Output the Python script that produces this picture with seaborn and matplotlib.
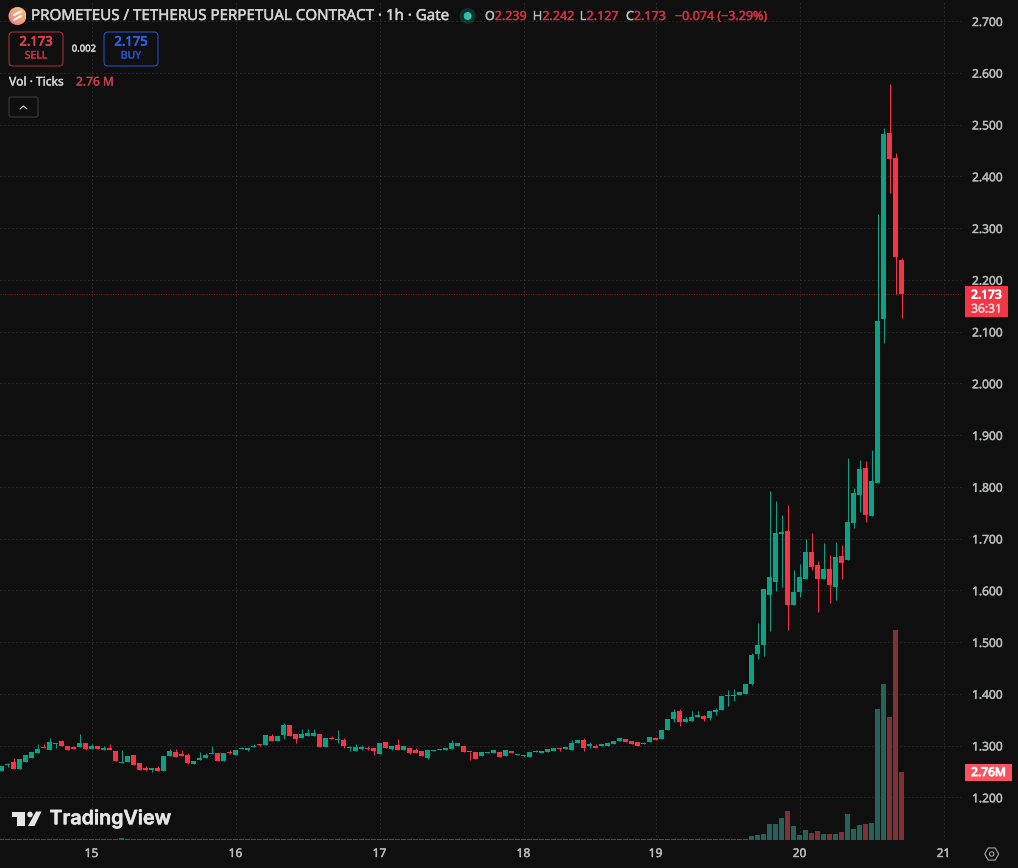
import matplotlib
matplotlib.use("Agg")
import matplotlib.pyplot as plt
import matplotlib.patheffects as pe
from matplotlib.patches import Circle, FancyBboxPatch, Polygon, Rectangle, RegularPolygon
import numpy as np
import pandas as pd
import seaborn as sns

# Hourly PROMETEUS / TETHERUS perpetual candles
opens = [
    1.250, 1.263, 1.268, 1.254, 1.269, 1.276, 1.285, 1.298, 1.291, 1.303,
    1.309, 1.299, 1.297, 1.297, 1.305, 1.293, 1.299, 1.291, 1.295, 1.289,
    1.266, 1.268, 1.281, 1.266, 1.256, 1.253, 1.256, 1.250, 1.280, 1.287,
    1.283, 1.282, 1.265, 1.272, 1.276, 1.283, 1.286, 1.270, 1.288, 1.282,
    1.294, 1.291, 1.297, 1.303, 1.301, 1.318, 1.309, 1.321, 1.339, 1.323,
    1.314, 1.318, 1.318, 1.323, 1.297, 1.314, 1.310, 1.310, 1.295, 1.290,
    1.294, 1.295, 1.295, 1.283, 1.306, 1.294, 1.301, 1.292, 1.295, 1.291,
    1.290, 1.275, 1.289, 1.292, 1.291, 1.293, 1.299, 1.299, 1.288, 1.288,
    1.279, 1.285, 1.285, 1.288, 1.280, 1.290, 1.2825, 1.280, 1.278, 1.288,
    1.286, 1.288, 1.289, 1.295, 1.294, 1.292, 1.305, 1.311, 1.300, 1.300,
    1.300, 1.299, 1.303, 1.309, 1.312, 1.309, 1.307, 1.303, 1.307, 1.315,
    1.313, 1.330, 1.3515, 1.367, 1.346, 1.348, 1.356, 1.357, 1.353, 1.365,
    1.369, 1.396, 1.395, 1.398, 1.400, 1.419, 1.477, 1.494, 1.591, 1.616,
    1.709, 1.714, 1.571, 1.596, 1.622, 1.674, 1.649, 1.622, 1.641, 1.606,
    1.666, 1.658, 1.730, 1.784, 1.836, 1.743, 1.807, 2.124, 2.484, 2.435, 2.239,
]
closes = [
    1.260, 1.264, 1.254, 1.273, 1.281, 1.287, 1.293, 1.295, 1.306, 1.305,
    1.300, 1.291, 1.293, 1.305, 1.294, 1.299, 1.294, 1.295, 1.291, 1.270,
    1.268, 1.279, 1.262, 1.252, 1.253, 1.257, 1.251, 1.279, 1.290, 1.278,
    1.280, 1.266, 1.270, 1.276, 1.282, 1.285, 1.270, 1.286, 1.286, 1.291,
    1.296, 1.296, 1.299, 1.301, 1.321, 1.309, 1.319, 1.339, 1.318, 1.312,
    1.323, 1.324, 1.324, 1.297, 1.314, 1.312, 1.312, 1.299, 1.296, 1.297,
    1.297, 1.294, 1.290, 1.305, 1.295, 1.300, 1.292, 1.299, 1.285, 1.286,
    1.279, 1.291, 1.292, 1.293, 1.295, 1.305, 1.305, 1.288, 1.287, 1.274,
    1.288, 1.288, 1.292, 1.278, 1.292, 1.286, 1.283, 1.282, 1.288, 1.289,
    1.290, 1.294, 1.295, 1.294, 1.297, 1.305, 1.311, 1.295, 1.303, 1.295,
    1.301, 1.305, 1.309, 1.315, 1.307, 1.303, 1.299, 1.305, 1.317, 1.311,
    1.330, 1.3515, 1.365, 1.346, 1.3515, 1.355, 1.357, 1.3515, 1.367, 1.369,
    1.396, 1.398, 1.396, 1.404, 1.418, 1.475, 1.494, 1.602, 1.625, 1.710,
    1.712, 1.571, 1.596, 1.625, 1.674, 1.645, 1.622, 1.641, 1.610, 1.664,
    1.653, 1.732, 1.788, 1.834, 1.745, 1.811, 2.121, 2.482, 2.433, 2.244, 2.173,
]
highs = [
    1.260, 1.267, 1.276, 1.273, 1.281, 1.287, 1.303, 1.303, 1.315, 1.305,
    1.310, 1.299, 1.300, 1.322, 1.305, 1.303, 1.299, 1.299, 1.303, 1.289,
    1.292, 1.279, 1.281, 1.266, 1.261, 1.257, 1.260, 1.279, 1.294, 1.294,
    1.291, 1.285, 1.270, 1.288, 1.286, 1.299, 1.286, 1.286, 1.291, 1.291,
    1.297, 1.296, 1.303, 1.303, 1.321, 1.323, 1.319, 1.343, 1.339, 1.323,
    1.331, 1.331, 1.331, 1.323, 1.314, 1.318, 1.330, 1.314, 1.300, 1.303,
    1.301, 1.299, 1.295, 1.305, 1.306, 1.300, 1.313, 1.299, 1.295, 1.295,
    1.290, 1.291, 1.292, 1.293, 1.295, 1.310, 1.305, 1.299, 1.288, 1.288,
    1.288, 1.288, 1.292, 1.288, 1.292, 1.290, 1.283, 1.282, 1.288, 1.291,
    1.290, 1.294, 1.295, 1.295, 1.297, 1.311, 1.311, 1.315, 1.306, 1.303,
    1.301, 1.307, 1.309, 1.315, 1.312, 1.309, 1.307, 1.307, 1.317, 1.315,
    1.330, 1.3515, 1.370, 1.371, 1.355, 1.367, 1.367, 1.359, 1.367, 1.373,
    1.396, 1.408, 1.410, 1.404, 1.418, 1.479, 1.536, 1.602, 1.792, 1.772,
    1.745, 1.765, 1.639, 1.650, 1.699, 1.710, 1.656, 1.691, 1.668, 1.693,
    1.687, 1.855, 1.797, 1.852, 1.850, 1.871, 2.327, 2.493, 2.578, 2.445, 2.242,
]
lows = [
    1.250, 1.259, 1.254, 1.254, 1.269, 1.276, 1.285, 1.295, 1.291, 1.296,
    1.300, 1.291, 1.293, 1.297, 1.291, 1.293, 1.294, 1.291, 1.291, 1.270,
    1.266, 1.268, 1.262, 1.252, 1.250, 1.249, 1.251, 1.250, 1.280, 1.277,
    1.280, 1.265, 1.265, 1.272, 1.276, 1.283, 1.270, 1.270, 1.283, 1.282,
    1.293, 1.290, 1.297, 1.299, 1.301, 1.308, 1.309, 1.312, 1.318, 1.305,
    1.314, 1.318, 1.318, 1.297, 1.297, 1.312, 1.305, 1.296, 1.290, 1.290,
    1.292, 1.291, 1.282, 1.283, 1.295, 1.292, 1.292, 1.292, 1.283, 1.285,
    1.279, 1.274, 1.289, 1.292, 1.291, 1.293, 1.299, 1.288, 1.272, 1.274,
    1.279, 1.285, 1.285, 1.278, 1.280, 1.286, 1.282, 1.278, 1.278, 1.288,
    1.286, 1.288, 1.289, 1.290, 1.294, 1.292, 1.305, 1.290, 1.295, 1.295,
    1.300, 1.299, 1.303, 1.309, 1.307, 1.303, 1.299, 1.303, 1.307, 1.311,
    1.313, 1.330, 1.346, 1.337, 1.346, 1.348, 1.356, 1.348, 1.350, 1.359,
    1.369, 1.377, 1.386, 1.398, 1.400, 1.416, 1.468, 1.473, 1.522, 1.598,
    1.607, 1.523, 1.571, 1.587, 1.622, 1.639, 1.558, 1.622, 1.575, 1.581,
    1.622, 1.658, 1.720, 1.751, 1.732, 1.743, 1.807, 2.078, 2.368, 2.172, 2.127,
]
# Tick volume in millions
volumes = [
    0.03, 0.03, 0.04, 0.03, 0.03, 0.03, 0.03, 0.03, 0.04, 0.03,
    0.03, 0.04, 0.03, 0.03, 0.05, 0.03, 0.03, 0.03, 0.03, 0.04,
    0.09, 0.03, 0.03, 0.03, 0.03, 0.03, 0.03, 0.05, 0.03, 0.03,
    0.03, 0.03, 0.03, 0.03, 0.03, 0.03, 0.03, 0.03, 0.03, 0.03,
    0.03, 0.03, 0.03, 0.03, 0.04, 0.03, 0.03, 0.05, 0.05, 0.03,
    0.03, 0.03, 0.03, 0.05, 0.03, 0.03, 0.03, 0.03, 0.03, 0.03,
    0.03, 0.03, 0.03, 0.03, 0.03, 0.03, 0.03, 0.03, 0.03, 0.03,
    0.03, 0.03, 0.03, 0.03, 0.03, 0.03, 0.03, 0.03, 0.03, 0.03,
    0.03, 0.03, 0.03, 0.03, 0.03, 0.03, 0.03, 0.03, 0.03, 0.03,
    0.03, 0.03, 0.03, 0.03, 0.03, 0.03, 0.03, 0.03, 0.03, 0.03,
    0.03, 0.03, 0.03, 0.03, 0.03, 0.03, 0.03, 0.03, 0.03, 0.03,
    0.03, 0.04, 0.05, 0.05, 0.03, 0.03, 0.03, 0.03, 0.04, 0.04,
    0.05, 0.05, 0.05, 0.05, 0.04, 0.16, 0.20, 0.24, 0.65, 0.65,
    0.89, 1.18, 0.57, 0.20, 0.41, 0.28, 0.37, 0.24, 0.24, 0.24,
    0.32, 1.05, 0.45, 0.61, 0.65, 0.69, 5.31, 6.33, 4.99, 8.52, 2.76,
]
price_ticks = [1.2, 1.3, 1.4, 1.5, 1.6, 1.7, 1.8, 1.9, 2.0, 2.1, 2.2, 2.3, 2.4, 2.5, 2.6, 2.7]
day_labels = ["15", "16", "17", "18", "19", "20", "21"]
day_bars = [15, 39, 63, 87, 109, 133, 157]
last_close = 2.173
last_volume = 2.76

BG = "#0f0f0f"
UP = "#0ea085"
DOWN = "#f23645"
UP_VOL = "#26615a"
DOWN_VOL = "#7d3236"
GRID = "#3e3e3e"
AXIS_TEXT = "#b8bbba"

sns.set_theme(style="dark", rc={
    "figure.facecolor": BG,
    "axes.facecolor": BG,
    "axes.edgecolor": BG,
    "text.color": "#d1d4d3",
})
plt.rcParams["font.family"] = ["Noto Sans", "DejaVu Sans"]

W, H = 1018, 868
PLOT_W, PLOT_H = 962, 840
px = 72 / 100  # one pixel in points


def heavier(color, amount=0.3):
    """Outline glyphs in their own colour so small text reads a little heavier."""
    return [pe.withStroke(linewidth=amount, foreground=color)]


fig = plt.figure(figsize=(W / 100, H / 100), dpi=100, facecolor=BG)
rect = [0, (H - PLOT_H) / H, PLOT_W / W, PLOT_H / H]

df = pd.DataFrame({"bar": np.arange(len(opens)), "open": opens, "high": highs,
                   "low": lows, "close": closes, "volume": volumes})
df["side"] = np.where(df["close"] >= df["open"], "up", "down")
df["color"] = df["side"].map({"up": UP, "down": DOWN})
df["base"] = df[["open", "close"]].min(axis=1)
# Doji bodies stay at least about a pixel tall
df["body"] = (df["open"] - df["close"]).abs().clip(lower=0.002)

# Price pane
ax = fig.add_axes(rect, zorder=1)
ax.vlines(df["bar"], df["low"], df["high"], colors=df["color"], linewidth=1 * px, zorder=3)
ax.bar(df["bar"], df["body"], bottom=df["base"], width=0.86, color=df["color"], linewidth=0, zorder=4)
ax.axhline(last_close, color=DOWN, linewidth=0.8 * px, linestyle=(0, (1, 2)), alpha=0.7, zorder=2)
ax.set_xlim(-0.25, 160.08)
ax.set_ylim(1.1174, 2.7406)
ax.set_yticks(price_ticks, [f"{t:.3f}" for t in price_ticks])
ax.set_xticks(day_bars, day_labels)
ax.yaxis.tick_right()
ax.tick_params(axis="y", length=0, pad=10 * px, labelsize=12 * px, colors=AXIS_TEXT)
ax.tick_params(axis="x", length=0, pad=7 * px, labelsize=12 * px, colors=AXIS_TEXT)
for label in ax.get_xticklabels() + ax.get_yticklabels():
    label.set_path_effects(heavier(AXIS_TEXT))
ax.grid(True, color=GRID, linewidth=1 * px, linestyle=(0, (1, 3)), zorder=0)
ax.set_axisbelow(True)
sns.despine(ax=ax, left=True, bottom=True, right=True, top=True)

# Volume pane shares the lower part of the same area
ax_vol = fig.add_axes(rect, zorder=2)
ax_vol.patch.set_visible(False)
sns.barplot(data=df, x="bar", y="volume", hue="side", palette={"up": UP_VOL, "down": DOWN_VOL},
            native_scale=True, dodge=False, width=0.86, legend=False, saturation=1,
            linewidth=0, ax=ax_vol)
ax_vol.set_xlim(-0.25, 160.08)
ax_vol.set_ylim(0, 34.1)
ax_vol.set_axis_off()

# Overlay in pixel coordinates for the header, price tags and watermark
ov = fig.add_axes([0, 0, 1, 1], zorder=3)
ov.set_xlim(0, W)
ov.set_ylim(H, 0)
ov.set_axis_off()

# Symbol badge with a diagonal gradient
grad_x, grad_y = np.meshgrid(np.linspace(0, 1, 40), np.linspace(0, 1, 40))
mix = ((grad_x + (1 - grad_y)) / 2)[..., None]
grad = (1 - mix) * np.array([238, 120, 140]) / 255 + mix * np.array([240, 205, 110]) / 255
badge = ov.imshow(grad, extent=(8.5, 26.5, 25, 7), aspect="auto", zorder=2)
badge.set_clip_path(Circle((17.5, 16), 9, transform=ov.transData))
ov.set_xlim(0, W)
ov.set_ylim(H, 0)
ov.plot([14, 21], [15, 11.5], color="white", linewidth=2 * px, zorder=3)
ov.plot([14, 21], [20, 16], color="white", linewidth=2 * px, zorder=3)

ov.text(31, 16.5, "PROMETEUS / TETHERUS PERPETUAL CONTRACT · 1h · Gate", fontsize=15.1 * px,
        color="#d1d4d3", va="center", ha="left", path_effects=heavier("#d1d4d3"))

# Market-open status dot
ov.add_patch(Circle((467.7, 16), 8, color=UP, alpha=0.25, linewidth=0))
ov.add_patch(Circle((467.7, 16), 4, color="#2ec4a8", linewidth=0))

# O/H/L/C readout
ohlc = [(485, "O", "2.239"), (533, "H", "2.242"), (580, "L", "2.127"), (626, "C", "2.173")]
for x, key, value in ohlc:
    lab = ov.text(x, 16.5, key, fontsize=12.5 * px, color="#b8bbba", va="center", ha="left",
                  path_effects=heavier("#b8bbba"))
    ov.annotate(value, xy=(1, 0.5), xycoords=lab, va="center", ha="left",
                fontsize=12.5 * px, color="#d5303f", path_effects=heavier("#d5303f"))
ov.text(675, 16.5, "−0.074 (−3.29%)", fontsize=12.5 * px, color="#d5303f", va="center", ha="left",
        path_effects=heavier("#d5303f"))

# Sell and buy boxes
for x0, edge, price, word, word_color, price_color in [
    (9, "#b3303d", "2.173", "SELL", "#c23542", "#e0404e"),
    (104, "#2556d8", "2.175", "BUY", "#2452c8", "#2f62e8"),
]:
    ov.add_patch(FancyBboxPatch((x0 + 3, 35), 48, 28, boxstyle="round,pad=3,rounding_size=4",
                                facecolor="none", edgecolor=edge, linewidth=1 * px))
    ov.text(x0 + 27, 42, price, fontsize=13 * px, color=price_color, ha="center", va="center",
            path_effects=heavier(price_color, 0.5))
    ov.text(x0 + 27, 56, word, fontsize=10.5 * px, color=word_color, ha="center", va="center",
            path_effects=heavier(word_color))
ov.text(84, 49, "0.002", fontsize=9.5 * px, color="#d1d4d3", ha="center", va="center",
        path_effects=heavier("#d1d4d3"))

# Volume legend and collapse button
ov.text(9, 82, "Vol · Ticks", fontsize=12 * px, color="#d1d4d3", ha="left", va="center",
        path_effects=heavier("#d1d4d3"))
ov.text(76, 82, "2.76 M", fontsize=12 * px, color="#c83c46", ha="left", va="center",
        path_effects=heavier("#c83c46"))
ov.add_patch(FancyBboxPatch((11, 99), 25, 16, boxstyle="round,pad=2,rounding_size=2",
                            facecolor="none", edgecolor="#3f3f3f", linewidth=1 * px))
ov.plot([20, 23.5, 27], [109, 106, 109], color="#d1d4d3", linewidth=1.1 * px)

# Last price tag
ov.add_patch(Rectangle((965, 286), 43, 31, facecolor=DOWN, linewidth=0, zorder=4))
ov.text(986.5, 295, f"{last_close:.3f}", fontsize=12 * px, color="white",
        ha="center", va="center", zorder=5, path_effects=heavier("white", 0.7))
ov.text(986.5, 309, "36:31", fontsize=12 * px, color="#fbd5d8", ha="center", va="center", zorder=5,
        path_effects=heavier("#fbd5d8"))

# Last volume tag
ov.add_patch(Rectangle((965, 764), 47, 17, facecolor="#f7525f", linewidth=0, zorder=4))
ov.text(988.5, 772.5, f"{last_volume:.2f}M", fontsize=12 * px, color="white",
        ha="center", va="center", zorder=5, path_effects=heavier("white", 0.7))

# Watermark
mark = "#e6e6e6"
ov.add_patch(Polygon([(12, 811.5), (25, 811.5), (25, 826), (17.3, 826), (17.3, 817), (12, 817)],
                     facecolor=mark, linewidth=0))
ov.add_patch(Circle((30, 814.5), 2.8, facecolor=mark, linewidth=0))
ov.add_patch(Polygon([(36, 811.5), (41.5, 811.5), (34.5, 826), (28, 826)], facecolor=mark, linewidth=0))
ov.text(49.5, 819, "TradingView", fontsize=19.7 * px, color=mark, fontweight="semibold",
        family="Inter", ha="left", va="center", path_effects=heavier(mark, 0.4))

# Settings glyph in the corner
ov.add_patch(RegularPolygon((991.7, 854), 6, radius=7, orientation=np.pi / 2, facecolor="none",
                            edgecolor="#b2b5b4", linewidth=1 * px))
ov.add_patch(Circle((991.7, 854), 2.2, facecolor="none", edgecolor="#b2b5b4", linewidth=1 * px))

fig.savefig("out.png", dpi=100, facecolor=BG)
